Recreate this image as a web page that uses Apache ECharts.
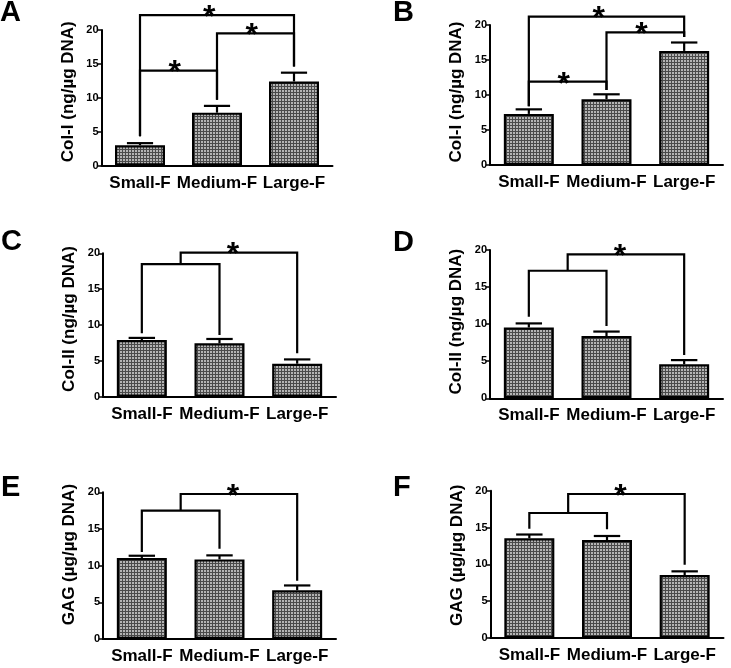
<!DOCTYPE html>
<html><head><meta charset="utf-8">
<script src="https://cdn.jsdelivr.net/npm/echarts@6/dist/echarts.min.js"></script>
<style>html,body{margin:0;padding:0;background:#fff}#c{width:731px;height:668px}</style>
</head><body><div id="c"></div>
<script>
// ---------- data ----------
const categories = ['Small-F', 'Medium-F', 'Large-F'];
const panelLetters = ['A', 'B', 'C', 'D', 'E', 'F'];
const yNames = ['Col-I (ng/µg DNA)', 'Col-I (ng/µg DNA)', 'Col-II (ng/µg DNA)', 'Col-II (ng/µg DNA)', 'GAG (µg/µg DNA)', 'GAG (µg/µg DNA)'];
const yMin = 0, yMax = 20, yStep = 5;

const meanA = [3.0, 7.8, 12.4];    const upperA = [3.3, 8.8, 13.7];
const meanB = [7.3, 9.4, 16.3];    const upperB = [7.95, 10.1, 17.5];
const meanC = [7.9, 7.45, 4.6];    const upperC = [8.2, 8.05, 5.2];
const meanD = [9.55, 8.4, 4.6];    const upperD = [10.1, 9.0, 5.15];
const meanE = [11.05, 10.85, 6.65]; const upperE = [11.35, 11.4, 7.3];
const meanF = [13.55, 13.3, 8.55]; const upperF = [14.05, 13.85, 9.05];

// pairwise significance brackets: [fromIndex, toIndex, bracketLevel, legEndFrom, legEndTo]
const bracketsA = [[0, 2, 22.2, 4.3, 14.6], [1, 2, 19.5, 9.7, 14.6], [0, 1, 14.0, 4.3, 9.7]];
const bracketsB = [[0, 2, 21.2, 8.4, 18.3], [1, 2, 18.95, 10.7, 18.3], [0, 1, 11.9, 8.4, 10.7]];
// nested brackets (Small+Medium vs Large): [lowerLevel, upperLevel, legEndSmall, legEndMedium, legEndLarge]
const nestedC = [18.5, 20.1, 8.85, 8.6, 6.05];
const nestedD = [17.2, 19.4, 11.0, 9.75, 5.85];
const nestedE = [17.5, 19.77, 11.86, 12.3, 7.95];
const nestedF = [16.97, 19.55, 14.84, 14.75, 9.95];

const means = [meanA, meanB, meanC, meanD, meanE, meanF];
const uppers = [upperA, upperB, upperC, upperD, upperE, upperF];
const brackets = [{pairs: bracketsA}, {pairs: bracketsB}, {nested: nestedC}, {nested: nestedD}, {nested: nestedE}, {nested: nestedF}];

// ---------- layout ----------
const layouts = [
  {left: 101.5, top: 30,    width: 231, height: 135.5, lx: 0,   ly: 13,    pad: 12},
  {left: 490,   top: 25,    width: 233, height: 140,   lx: 393, ly: 13,    pad: 6},
  {left: 103,   top: 253.3, width: 233, height: 143.4, lx: 1,   ly: 242,   pad: 12},
  {left: 490,   top: 250,   width: 233, height: 148.3, lx: 393, ly: 242.5, pad: 5},
  {left: 103,   top: 492.3, width: 233, height: 146.7, lx: 1,   ly: 487.5, pad: 22},
  {left: 490.5, top: 490.7, width: 233, height: 147.3, lx: 393, ly: 487.5, pad: 18}
];
const FONT = 'Liberation Sans, Arial, sans-serif';

// dithered grey fill
const pat = document.createElement('canvas');
pat.width = 3; pat.height = 3;
const pctx = pat.getContext('2d');
pctx.fillStyle = '#4a4a4a'; pctx.fillRect(0, 0, 3, 3);
pctx.fillStyle = '#b4b4b4'; pctx.fillRect(0, 0, 2, 2);

const grid = [], xAxis = [], yAxis = [], series = [], graphic = [];
layouts.forEach((L, p) => {
  grid.push({left: L.left, top: L.top, width: L.width, height: L.height});
  xAxis.push({
    type: 'category', gridIndex: p, data: categories,
    axisLine: {lineStyle: {color: '#000', width: 2}},
    axisTick: {alignWithLabel: true, length: 4, lineStyle: {color: '#000', width: 1.5}},
    axisLabel: {color: '#000', fontFamily: FONT, fontWeight: 'bold', fontSize: 17, margin: 9, interval: 0}
  });
  yAxis.push({
    type: 'value', gridIndex: p, min: yMin, max: yMax, interval: yStep,
    name: yNames[p], nameLocation: 'middle', nameGap: 25,
    nameTextStyle: {color: '#000', fontFamily: FONT, fontWeight: 'bold', fontSize: 17, padding: [0, 0, 0, L.pad]},
    axisLine: {show: true, lineStyle: {color: '#000', width: 2}},
    axisTick: {show: true, length: 4, lineStyle: {color: '#000', width: 1.5}},
    splitLine: {show: false},
    axisLabel: {color: '#000', fontFamily: FONT, fontWeight: 'bold', fontSize: 11, margin: 3}
  });
  series.push({
    type: 'bar', xAxisIndex: p, yAxisIndex: p, data: means[p], barWidth: 50,
    itemStyle: {color: {image: pat, repeat: 'repeat'}, borderColor: '#000', borderWidth: 2.2},
    z: 2
  });
  series.push({
    type: 'custom', xAxisIndex: p, yAxisIndex: p, clip: false, z: 3,
    data: means[p].map((m, i) => [i, m, uppers[p][i]]),
    renderItem: (params, api) => {
      const a = api.coord([api.value(0), api.value(1)]);
      const b = api.coord([api.value(0), api.value(2)]);
      const hw = api.size([1, 0])[0] * 0.17;
      const st = {stroke: '#000', lineWidth: 2.2};
      return {type: 'group', children: [
        {type: 'line', shape: {x1: a[0], y1: a[1], x2: b[0], y2: b[1]}, style: st},
        {type: 'line', shape: {x1: b[0] - hw, y1: b[1], x2: b[0] + hw, y2: b[1]}, style: st}
      ]};
    }
  });
  const br = brackets[p];
  const rows = br.pairs ? br.pairs.map(r => [r[0], r[2]]) : [[2, br.nested[1]]];
  series.push({
    type: 'custom', xAxisIndex: p, yAxisIndex: p, clip: false, z: 4,
    data: rows,
    renderItem: (params, api) => {
      const st = {stroke: '#000', lineWidth: 2.2, fill: null};
      const starStyle = (x, y) => ({type: 'text', style: {text: '*', x: x, y: y, font: 'bold 32px ' + FONT, fill: '#000', align: 'center', verticalAlign: 'middle'}});
      if (br.pairs) {
        const r = br.pairs[params.dataIndex];
        const p1 = api.coord([r[0], r[3]]), p2 = api.coord([r[0], r[2]]);
        const p3 = api.coord([r[1], r[2]]), p4 = api.coord([r[1], r[4]]);
        const sx = p2[0] + (p3[0] - p2[0]) * 0.45;
        return {type: 'group', children: [
          {type: 'polyline', shape: {points: [p1, p2, p3, p4]}, style: st},
          starStyle(sx, p2[1] + 3)
        ]};
      } else {
        const n = br.nested;
        const s0 = api.coord([0, n[2]]), s1 = api.coord([0, n[0]]);
        const m1 = api.coord([1, n[0]]), m0 = api.coord([1, n[3]]);
        const mid = (s1[0] + m1[0]) / 2;
        const up = api.coord([2, n[1]]), l0 = api.coord([2, n[4]]);
        const sx = mid + (up[0] - mid) * 0.45;
        return {type: 'group', children: [
          {type: 'polyline', shape: {points: [s0, s1, m1, m0]}, style: st},
          {type: 'polyline', shape: {points: [[mid, s1[1]], [mid, up[1]], [up[0], up[1]], l0]}, style: st},
          starStyle(sx, up[1] + 3)
        ]};
      }
    }
  });
  graphic.push({type: 'text', x: L.lx, y: L.ly, style: {text: panelLetters[p], font: 'bold 29px ' + FONT, fill: '#000', verticalAlign: 'middle'}});
});

const chart = echarts.init(document.getElementById('c'), null, {renderer: 'canvas'});
chart.setOption({animation: false, backgroundColor: '#fff', grid, xAxis, yAxis, series, graphic});
</script></body></html>
